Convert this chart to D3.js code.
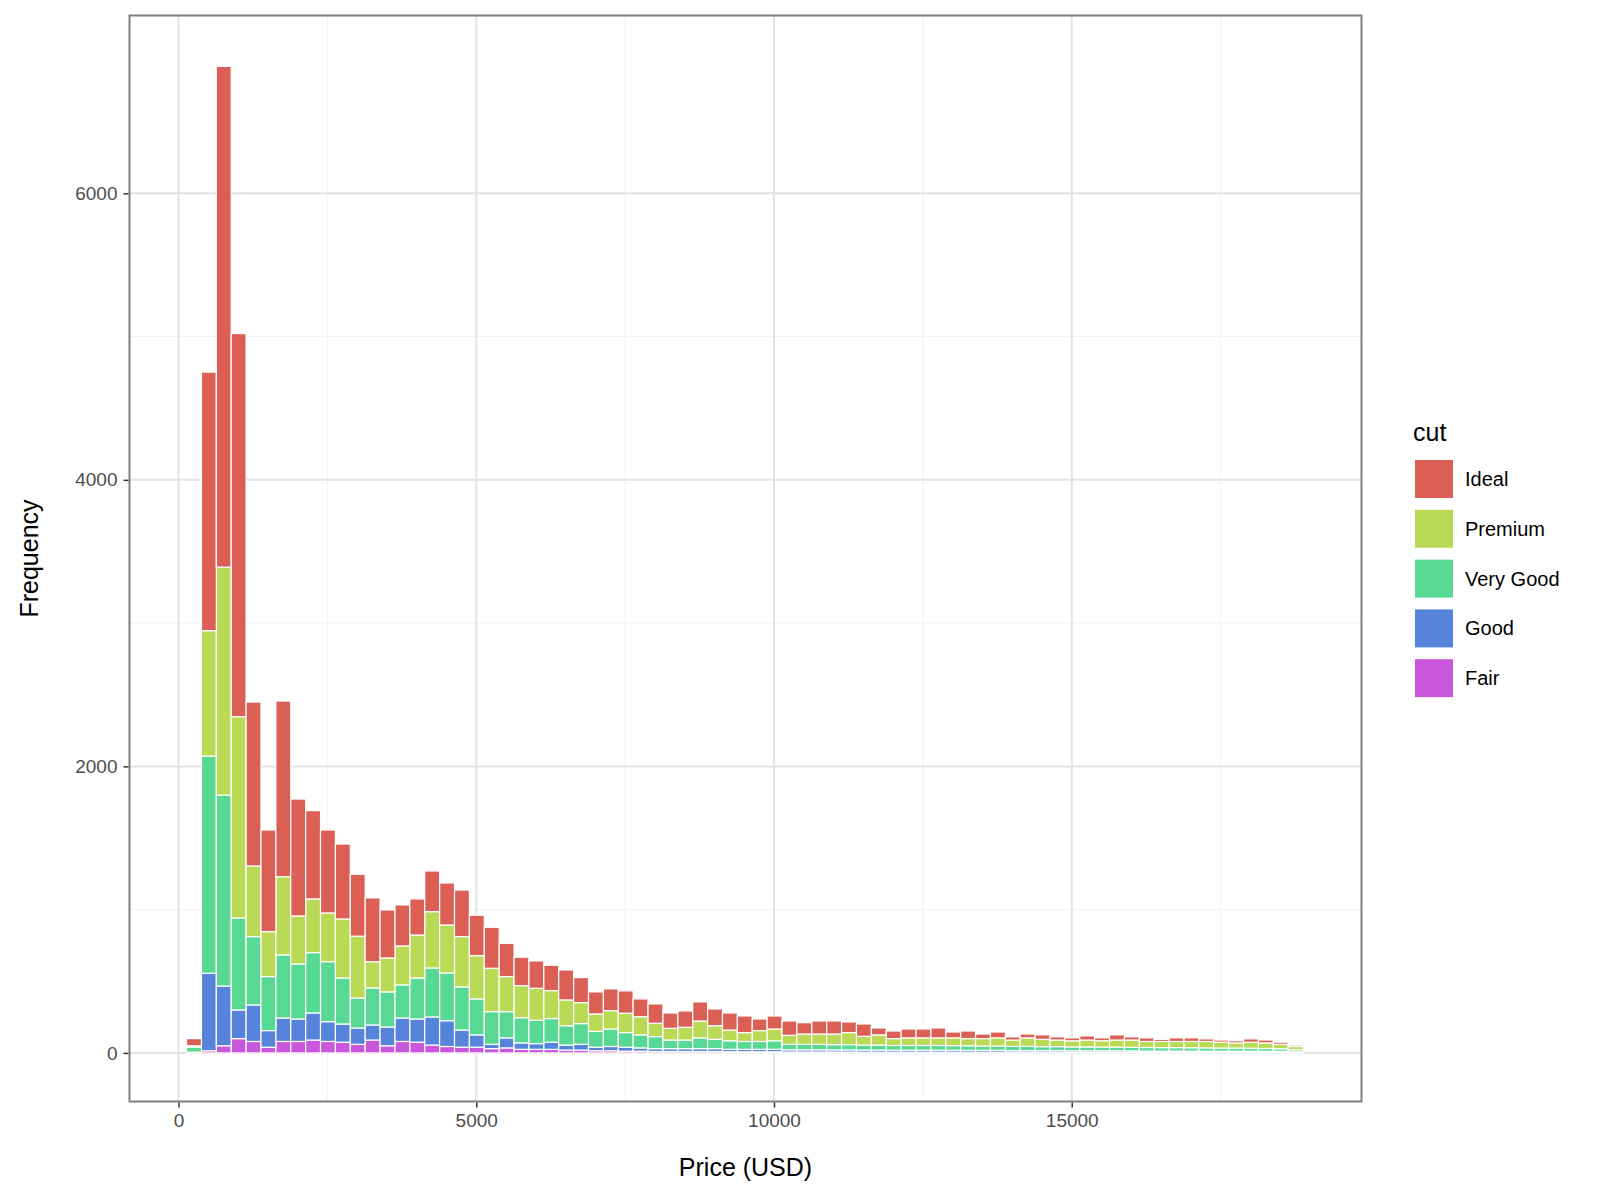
<!DOCTYPE html>
<html><head><meta charset="utf-8">
<script src="https://cdn.jsdelivr.net/npm/d3@7"></script>
<style>body{margin:0;background:#fff;font-family:"Liberation Sans",Arial,sans-serif;}</style>
</head><body>
<svg id="chart" width="1600" height="1200"></svg>
<script>
// bins of 250 USD
let binStart = 135, binWidth = 250;
let cuts = ['Ideal', 'Premium', 'Very Good', 'Good', 'Fair'];
let colors = {'Ideal': '#dc5f55', 'Premium': '#bada55', 'Very Good': '#57d993', 'Good': '#5784db', 'Fair': '#c957db'};

let fair = [0,15,50,100,80,40,80,80,90,80,75,60,90,50,80,75,55,45,40,
    40,30,35,25,25,25,20,20,15,15,12,12,10,10,10,10,10,8,8,8,8,
    6,6,6,6,6,5,5,5,5,5,5,5,5,5,5,4,4,4,4,4,4,4,4,4,3,3,3,3,3,3,3,3,3,3,2];
let good = [5,541,417,200,255,116,164,157,189,138,127,114,105,131,164,162,196,180,120,
    86,30,70,45,40,50,35,40,25,30,28,23,20,20,20,20,20,17,17,17,17,
    16,16,16,15,15,15,15,14,14,14,14,14,13,13,13,12,12,12,12,11,11,11,11,10,10,10,10,10,9,9,9,9,8,8,6];
let veryGood = [35,1516,1333,642,477,377,440,384,421,419,321,209,259,245,231,286,342,333,301,
    251,228,183,176,163,165,135,145,111,122,102,91,84,60,60,75,65,60,55,55,60,
    38,38,38,37,37,35,35,33,33,33,33,32,32,30,30,30,30,28,28,27,27,26,26,25,25,24,24,23,23,22,22,21,20,18,14];
let premium = [10,875,1591,1405,493,314,546,335,375,340,412,432,183,237,272,300,393,335,351,
    302,303,245,224,223,195,180,146,121,128,135,127,93,82,89,118,95,75,62,76,82,
    63,72,72,74,84,61,71,48,53,53,53,54,50,52,57,44,59,51,46,43,48,44,49,51,42,43,43,44,45,41,36,42,39,31,23];
let ideal = [50,1805,3495,2674,1144,709,1226,816,616,579,523,432,445,335,286,252,284,293,325,
    282,286,232,198,191,177,209,175,154,152,156,124,135,107,114,133,117,119,116,81,91,
    100,79,91,91,74,86,48,53,62,62,69,41,53,32,41,22,27,31,22,20,29,20,36,22,25,15,25,25,18,15,15,23,20,15,10];

let xTicks = [0, 5000, 10000, 15000];
let yTicks = [0, 2000, 4000, 6000];

let panel = {left: 129.5, right: 1361.5, top: 15.5, bottom: 1101.5};

let rows = ideal.map(function(d, i) {
    return {x0: binStart + i * binWidth, 'Fair': fair[i], 'Good': good[i], 'Very Good': veryGood[i], 'Premium': premium[i], 'Ideal': ideal[i]};
});

let svg = d3.select('#chart');

let x = d3.scaleLinear().domain([-823, 19866]).range([panel.left, panel.right]);
let y = d3.scaleLinear().domain([-339, 7241]).range([panel.bottom, panel.top]);

// grid
let g = svg.append('g');
let minorX = [2500, 7500, 12500, 17500], minorY = [1000, 3000, 5000];
g.selectAll('.mx').data(minorX).enter().append('line')
    .attr('x1', d => x(d)).attr('x2', d => x(d)).attr('y1', panel.top).attr('y2', panel.bottom)
    .attr('stroke', '#f2f2f2').attr('stroke-width', 1);
g.selectAll('.my').data(minorY).enter().append('line')
    .attr('y1', d => y(d)).attr('y2', d => y(d)).attr('x1', panel.left).attr('x2', panel.right)
    .attr('stroke', '#f2f2f2').attr('stroke-width', 1);
g.selectAll('.gx').data(xTicks).enter().append('line')
    .attr('x1', d => x(d)).attr('x2', d => x(d)).attr('y1', panel.top).attr('y2', panel.bottom)
    .attr('stroke', '#e3e3e3').attr('stroke-width', 2);
g.selectAll('.gy').data(yTicks).enter().append('line')
    .attr('y1', d => y(d)).attr('y2', d => y(d)).attr('x1', panel.left).attr('x2', panel.right)
    .attr('stroke', '#e3e3e3').attr('stroke-width', 2);

// stacked bars, Fair at bottom
let stack = d3.stack().keys(['Fair', 'Good', 'Very Good', 'Premium', 'Ideal'])(rows);
svg.append('g').selectAll('g').data(stack).enter().append('g')
    .attr('fill', d => colors[d.key])
    .selectAll('rect').data(d => d).enter().append('rect')
    .attr('x', d => x(d.data.x0))
    .attr('width', d => x(d.data.x0 + binWidth) - x(d.data.x0))
    .attr('y', d => y(d[1]))
    .attr('height', d => Math.max(0, y(d[0]) - y(d[1])))
    .attr('stroke', '#fff').attr('stroke-width', 1.2);

// panel border
svg.append('rect').attr('x', panel.left).attr('y', panel.top)
    .attr('width', panel.right - panel.left).attr('height', panel.bottom - panel.top)
    .attr('fill', 'none').attr('stroke', '#7f7f7f').attr('stroke-width', 2);

// axes
let xAxis = svg.append('g').attr('transform', 'translate(0,' + (panel.bottom + 1) + ')')
    .call(d3.axisBottom(x).tickValues(xTicks).tickSize(5).tickPadding(6).tickFormat(d3.format('d')));
let yAxis = svg.append('g').attr('transform', 'translate(' + (panel.left - 1) + ',0)')
    .call(d3.axisLeft(y).tickValues(yTicks).tickSize(5).tickPadding(6).tickFormat(d3.format('d')));
[xAxis, yAxis].forEach(function(a) {
    a.select('.domain').remove();
    a.selectAll('line').attr('stroke', '#333').attr('stroke-width', 1.5);
    a.selectAll('text').attr('fill', '#4d4d4d').style('font-size', '19px').style('font-family', '"Liberation Sans",Arial,sans-serif');
});

svg.append('text').attr('x', (panel.left + panel.right) / 2).attr('y', 1176)
    .attr('text-anchor', 'middle').style('font-size', '25px').text('Price (USD)');
svg.append('text').attr('transform', 'translate(38,' + ((panel.top + panel.bottom) / 2) + ') rotate(-90)')
    .attr('text-anchor', 'middle').style('font-size', '25px').text('Frequency');

// legend
let legend = svg.append('g').attr('transform', 'translate(1413,0)');
legend.append('text').attr('x', 0).attr('y', 441).style('font-size', '25px').text('cut');
let item = legend.selectAll('.item').data(cuts).enter().append('g')
    .attr('transform', (d, i) => 'translate(2,' + (460 + i * 49.8) + ')');
item.append('rect').attr('width', 38).attr('height', 38).attr('fill', d => colors[d]);
item.append('text').attr('x', 50).attr('y', 26).style('font-size', '20px').text(d => d);
</script>
</body></html>
